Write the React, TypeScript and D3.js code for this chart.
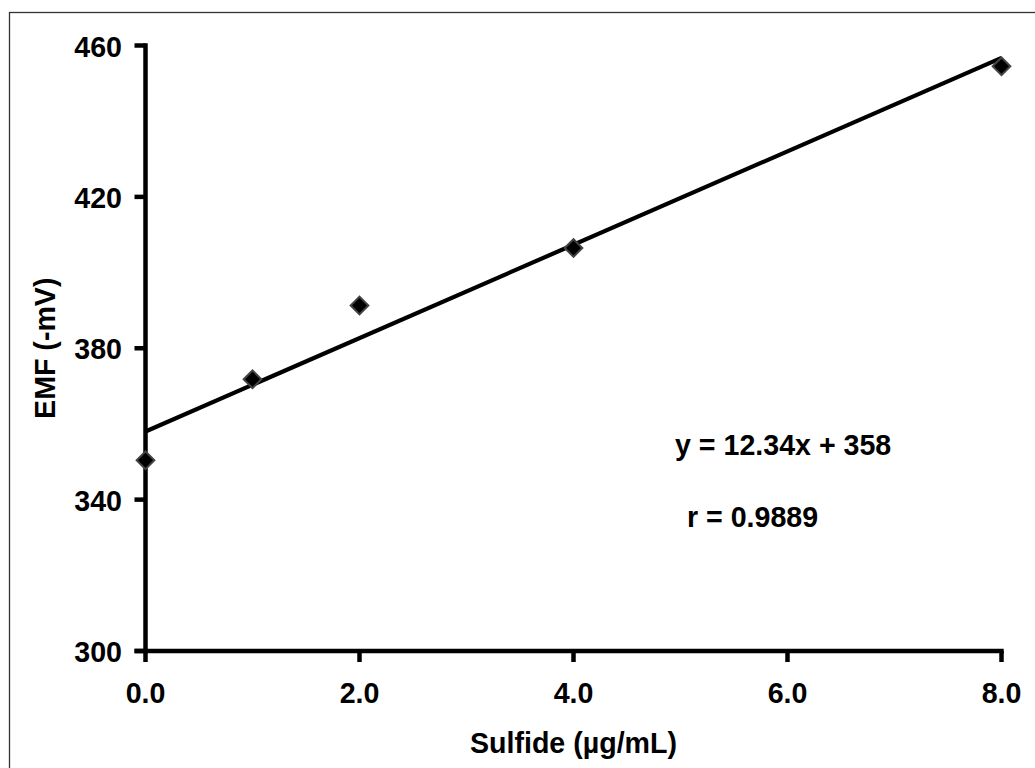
import React from "react";
import * as d3 from "d3";

const sulfide = [0, 1, 2, 4, 8];
const emf = [350.4, 371.8, 391.3, 406.5, 454.5];
const xTicks = [0, 2, 4, 6, 8];
const yTicks = [300, 340, 380, 420, 460];
const fitSlope = 12.34;
const fitIntercept = 358;
const fitRange = [0, 8];
const equationText = "y = 12.34x + 358";
const rText = "r = 0.9889";
const xTitle = "Sulfide (µg/mL)";
const yTitle = "EMF (-mV)";

const FONT = "'Liberation Sans', Arial, Helvetica, sans-serif";
const FS = 28.6;

export default function App() {
  const x = d3.scaleLinear().domain([0, 8]).range([145.5, 1001.5]);
  const y = d3.scaleLinear().domain([300, 460]).range([651, 45.5]);
  const fitLine = d3
    .line<number>()
    .x((d) => x(d))
    .y((d) => y(fitSlope * d + fitIntercept));
  const sq = 12.5;
  return (
    <svg
      width={1035}
      height={768}
      style={{ position: "absolute", left: 0, top: 0, background: "#fff" }}
      fontFamily={FONT}
      fontWeight="bold"
    >
      <rect x={9.5} y={12.5} width={1040} height={800} fill="#fff" stroke="#333" strokeWidth={1.3} />
      {/* y axis */}
      <line x1={x(0)} x2={x(0)} y1={y(460) - 2.2} y2={y(300) + 2.2} stroke="#000" strokeWidth={4.5} />
      {yTicks.map((t) => (
        <g key={"y" + t}>
          <line x1={x(0) - 11} x2={x(0)} y1={y(t)} y2={y(t)} stroke="#000" strokeWidth={4.5} />
          <text x={122} y={y(t) + 1} textAnchor="end" dominantBaseline="central" fontSize={FS}>
            {t}
          </text>
        </g>
      ))}
      {/* x axis */}
      <line x1={x(0) - 11} x2={x(8) + 2.2} y1={y(300)} y2={y(300)} stroke="#000" strokeWidth={4.5} />
      {xTicks.map((t) => (
        <g key={"x" + t}>
          <line x1={x(t)} x2={x(t)} y1={y(300)} y2={y(300) + 11} stroke="#000" strokeWidth={4.5} />
          <text x={x(t)} y={703} textAnchor="middle" fontSize={FS}>
            {t.toFixed(1)}
          </text>
        </g>
      ))}
      <text x={(x(0) + x(8)) / 2} y={753} textAnchor="middle" fontSize={FS}>
        {xTitle}
      </text>
      <text
        transform={`translate(55, ${(y(300) + y(460)) / 2}) rotate(-90)`}
        textAnchor="middle"
        fontSize={FS}
      >
        {yTitle}
      </text>
      {/* fit line */}
      <path d={fitLine(fitRange) ?? ""} fill="none" stroke="#000" strokeWidth={4.2} />
      {/* points */}
      {sulfide.map((s, i) => (
        <rect
          key={"p" + i}
          x={-sq / 2}
          y={-sq / 2}
          width={sq}
          height={sq}
          transform={`translate(${x(s)}, ${y(emf[i])}) rotate(45)`}
          fill="#000"
          stroke="#444"
          strokeWidth={2}
        />
      ))}
      <text x={675} y={455} fontSize={FS}>
        {equationText}
      </text>
      <text x={687} y={527} fontSize={FS}>
        {rText}
      </text>
    </svg>
  );
}
